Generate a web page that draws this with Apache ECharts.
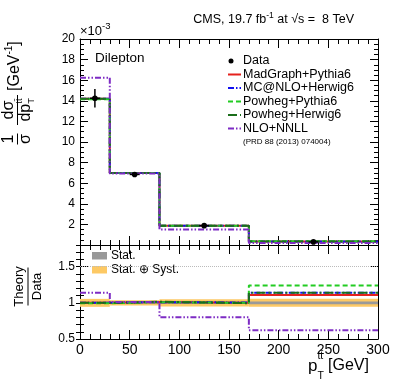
<!DOCTYPE html>
<html><head><meta charset="utf-8">
<script src="https://cdn.jsdelivr.net/npm/echarts@6/dist/echarts.min.js"></script>
<style>html,body{margin:0;padding:0;background:#fff}#c{width:399px;height:383px}</style>
</head><body><div id="c"></div>
<script>
// ---------------- data ----------------
const binEdges = [0, 30, 80, 170, 300];
const dataValues = [14.25, 6.85, 1.88, 0.30];
const dataErrors = [0.9, 0.2, 0.08, 0.03];
const madgraphPythia6 = [14.2, 7.0, 1.88, 0.33];
const mcatnloHerwig6 = [14.2, 7.0, 1.88, 0.34];
const powhegPythia6 = [14.15, 7.0, 1.88, 0.37];
const powhegHerwig6 = [14.2, 6.98, 1.87, 0.34];
const nloNnll = [16.25, 6.95, 1.5, 0.19];

const ratioMadgraph = [1.0, 1.01, 1.0, 1.11];
const ratioMcatnlo = [1.0, 1.01, 1.005, 1.14];
const ratioPowhegPythia = [0.995, 1.01, 1.0, 1.24];
const ratioPowhegHerwig = [1.0, 1.015, 0.995, 1.14];
const ratioNloNnll = [1.14, 1.01, 0.80, 0.62];
const statUnc = [0.012, 0.01, 0.015, 0.018];
const totalUnc = [0.055, 0.035, 0.05, 0.055];

const xTickLabels = [0, 50, 100, 150, 200, 250, 300];
const topYTickLabels = [2, 4, 6, 8, 10, 12, 14, 16, 18, 20];
const ratioYTickLabels = [0.5, 1, 1.5];

// ---------------- helpers ----------------
const FONT = '"Liberation Sans", Arial, Helvetica, sans-serif';
const mctx = document.createElement('canvas').getContext('2d');
function tw(t, size) { mctx.font = size + 'px ' + FONT; return mctx.measureText(t).width; }
function txt(t, x, y, size, align, extra) {
  return Object.assign({ type: 'text', x: x, y: y, silent: true,
    style: { text: t, fontSize: size, fontFamily: FONT, fill: '#000', align: align || 'left', verticalAlign: 'middle' } }, extra || {});
}
// pieces: [text, size, dy, advance]
function run(pieces, x, y, align) {
  let total = 0;
  pieces.forEach(p => { if (p[3] !== false) total += tw(p[0], p[1]); });
  let cx = align === 'center' ? x - total / 2 : (align === 'right' ? x - total : x);
  const out = [];
  pieces.forEach(p => {
    out.push(txt(p[0], cx, y + (p[2] || 0), p[1], 'left'));
    if (p[3] !== false) cx += tw(p[0], p[1]);
  });
  return out;
}
function ln(x1, y1, x2, y2, color, w, dash) {
  return { type: 'line', silent: true, shape: { x1, y1, x2, y2 },
    style: { stroke: color, lineWidth: w, lineDash: dash || null } };
}
function steps(vals) {
  const pts = vals.map((v, i) => [binEdges[i], v]);
  pts.push([binEdges[binEdges.length - 1], vals[vals.length - 1]]);
  return pts;
}

const C = {
  mad: '#e5211d', mc: '#1010f0', pp: '#22cc22', ph: '#1b6e1b', nlo: '#7d2bc4'
};
const D = {
  mad: null, mc: [6, 2, 1.5, 2], pp: [5, 3], ph: [9, 3, 2, 3], nlo: [6, 2, 1.5, 2, 1.5, 2]
};

function stepSeries(name, vals, key, xi, yi) {
  return { name: name, type: 'line', xAxisIndex: xi, yAxisIndex: yi, step: 'end',
    data: steps(vals), symbol: 'none', silent: true,
    lineStyle: { color: C[key], width: 2, type: D[key] ? D[key] : 'solid' } };
}

// ---------------- axes ----------------
const axisLine = { show: true, onZero: false, lineStyle: { color: '#000', width: 1 } };
function xAx(gi, pos, labels) {
  return { type: 'value', gridIndex: gi, position: pos, min: 0, max: 300, interval: 50,
    axisLine: axisLine, splitLine: { show: false },
    axisTick: { show: true, inside: true, length: 9, lineStyle: { color: '#000' } },
    minorTick: { show: true, splitNumber: 5, length: 5, lineStyle: { color: '#000' } },
    axisLabel: { show: labels, fontSize: 14, fontFamily: FONT, color: '#000', margin: 4,
      formatter: v => xTickLabels.includes(v) ? String(v) : '' } };
}
function yTop(pos, labels) {
  return { type: 'value', gridIndex: 0, position: pos, min: 0, max: 20, interval: 2,
    axisLine: axisLine, splitLine: { show: false },
    axisTick: { show: true, inside: true, length: 8, lineStyle: { color: '#000' } },
    minorTick: { show: true, splitNumber: 4, length: 4, lineStyle: { color: '#000' } },
    axisLabel: { show: labels, fontSize: 12, fontFamily: FONT, color: '#000', margin: 5,
      formatter: v => topYTickLabels.includes(v) ? String(v) : '' } };
}
function yRatio(pos, major) {
  return { type: 'value', gridIndex: 1, position: pos, min: 0.5, max: 1.8,
    interval: major ? 0.5 : 0.1,
    axisLine: major ? axisLine : { show: false }, splitLine: { show: false },
    axisTick: { show: true, inside: true, length: major ? 8 : 4, lineStyle: { color: '#000' } },
    axisLabel: { show: major && pos === 'left', fontSize: 12, fontFamily: FONT, color: '#000', margin: 5,
      formatter: v => ratioYTickLabels.includes(v) ? String(v) : '' } };
}

// ---------------- custom renderers ----------------
function bandRender(color) {
  return function (params, api) {
    const p0 = api.coord([api.value(0), api.value(3)]);
    const p1 = api.coord([api.value(1), api.value(2)]);
    return { type: 'rect', shape: { x: p0[0], y: p0[1], width: p1[0] - p0[0], height: p1[1] - p0[1] },
      style: { fill: color } };
  };
}
function bandData(unc) {
  return unc.map((u, i) => [binEdges[i], binEdges[i + 1], 1 - u, 1 + u]);
}
const dataPoints = dataValues.map((v, i) => [(binEdges[i] + binEdges[i + 1]) / 2, v, dataErrors[i]]);
function dataRender(params, api) {
  const x = api.value(0), y = api.value(1), e = api.value(2);
  const c = api.coord([x, y]);
  const t = api.coord([x, y + e]);
  const b = api.coord([x, y - e]);
  return { type: 'group', children: [
    { type: 'line', shape: { x1: c[0], y1: t[1], x2: c[0], y2: b[1] }, style: { stroke: '#000', lineWidth: 1.5 } },
    { type: 'line', shape: { x1: c[0] - 5, y1: c[1], x2: c[0] + 5, y2: c[1] }, style: { stroke: '#000', lineWidth: 1.5 } },
    { type: 'circle', shape: { cx: c[0], cy: c[1], r: 2.8 }, style: { fill: '#000' } }
  ] };
}

// ---------------- graphic texts ----------------
const g = [];
// title
g.push(...run([['CMS, 19.7 fb', 12.5], ['-1', 8.5, -4], [' at \u221As =  8 TeV', 12.5]], 354, 20, 'right'));
// x10^-3
g.push(...run([['\u00D710', 13], ['-3', 9.5, -5]], 80, 31, 'left'));
// Dilepton
g.push(txt('Dilepton', 95, 58.5, 13.5, 'left'));
// legend
const legRows = [61, 74.5, 88, 101.5, 115, 128.5];
const legNames = ['Data', 'MadGraph+Pythia6', 'MC@NLO+Herwig6', 'Powheg+Pythia6', 'Powheg+Herwig6', 'NLO+NNLL'];
const legKeys = [null, 'mad', 'mc', 'pp', 'ph', 'nlo'];
legNames.forEach((n, i) => {
  const y = legRows[i];
  if (i === 0) g.push({ type: 'circle', silent: true, shape: { cx: 231, cy: y, r: 2.5 }, style: { fill: '#000' } });
  else g.push(ln(228, y, 241, y, C[legKeys[i]], 2, D[legKeys[i]]));
  g.push(txt(n, 243, y, 12.5, 'left'));
});
g.push(txt('(PRD 88 (2013) 074004)', 243, 142, 8, 'left'));
// ratio legend
g.push({ type: 'rect', silent: true, shape: { x: 92, y: 252, width: 15, height: 7.5 }, style: { fill: '#999999' } });
g.push(txt('Stat.', 111, 255.5, 12, 'left'));
g.push({ type: 'rect', silent: true, shape: { x: 92, y: 266, width: 15, height: 7.5 }, style: { fill: '#fdc964' } });
g.push(txt('Stat. \u2295 Syst.', 111, 269.7, 12, 'left'));
// y title top (rotated)
const yt = [];
yt.push(txt('1', -45, -8.5, 16, 'center'));
yt.push(txt('\u03C3', -45, 8.5, 16, 'center'));
yt.push(ln(-50.5, 0, -39.5, 0, '#000', 1));
yt.push(txt('d\u03C3', -16, -8.5, 16, 'center'));
(function () {
  const w = tw('dp', 16) + tw('tt\u0304', 9.5);
  const x0 = -16 - w / 2;
  yt.push(txt('dp', x0, 8.5, 16, 'left'));
  yt.push(txt('T', x0 + tw('dp', 16), 14, 9.5, 'left'));
  yt.push(txt('tt\u0304', x0 + tw('dp', 16), 1.5, 9.5, 'left'));
})();
yt.push(ln(-31, 0, -1, 0, '#000', 1));
yt.push(...run([['[GeV', 16], ['-1', 10, -5], [']', 16]], 3, -3, 'left'));
g.push({ type: 'group', x: 17.5, y: 94, rotation: Math.PI / 2, children: yt });
// ratio y title (rotated)
const rt = [];
rt.push(txt('Theory', 0, -8.5, 13, 'center'));
rt.push(ln(-19, 0, 19, 0, '#000', 1));
rt.push(txt('Data', 0, 9, 13, 'center'));
g.push({ type: 'group', x: 28, y: 286.5, rotation: Math.PI / 2, children: rt });
// x title
(function () {
  const x0 = 308;
  g.push(txt('p', x0, 366, 17, 'left'));
  const px = x0 + tw('p', 17);
  g.push(txt('T', px, 376, 10.5, 'left'));
  g.push(txt('tt\u0304', px, 356.5, 10.5, 'left'));
  g.push(txt('[GeV]', 328, 366, 16, 'left'));
})();

// ---------------- chart ----------------
const chart = echarts.init(document.getElementById('c'), null, { renderer: 'canvas' });
chart.setOption({
  animation: false,
  backgroundColor: '#fff',
  grid: [
    { left: 80, top: 39, width: 298, height: 206 },
    { left: 80, top: 245, width: 298, height: 94 }
  ],
  xAxis: [xAx(0, 'bottom', false), xAx(0, 'top', false), xAx(1, 'bottom', true), xAx(1, 'top', false)],
  yAxis: [yTop('left', true), yTop('right', false),
    yRatio('left', true), yRatio('left', false), yRatio('right', true), yRatio('right', false)],
  series: [
    stepSeries('MadGraph+Pythia6', madgraphPythia6, 'mad', 0, 0),
    stepSeries('MC@NLO+Herwig6', mcatnloHerwig6, 'mc', 0, 0),
    stepSeries('Powheg+Pythia6', powhegPythia6, 'pp', 0, 0),
    stepSeries('Powheg+Herwig6', powhegHerwig6, 'ph', 0, 0),
    stepSeries('NLO+NNLL', nloNnll, 'nlo', 0, 0),
    { name: 'Data', type: 'custom', xAxisIndex: 0, yAxisIndex: 0, renderItem: dataRender,
      data: dataPoints, silent: true, z: 5 },
    { name: 'Stat.+Syst.', type: 'custom', xAxisIndex: 2, yAxisIndex: 2, renderItem: bandRender('#fdc964'),
      data: bandData(totalUnc), silent: true,
      markLine: { silent: true, symbol: 'none', label: { show: false },
        lineStyle: { type: 'dotted', color: '#bbbbbb', width: 1 }, data: [{ yAxis: 1.5 }] } },
    { name: 'Stat.', type: 'custom', xAxisIndex: 2, yAxisIndex: 2, renderItem: bandRender('#999999'),
      data: bandData(statUnc), silent: true },
    stepSeries('r MadGraph+Pythia6', ratioMadgraph, 'mad', 2, 2),
    stepSeries('r MC@NLO+Herwig6', ratioMcatnlo, 'mc', 2, 2),
    stepSeries('r Powheg+Pythia6', ratioPowhegPythia, 'pp', 2, 2),
    stepSeries('r Powheg+Herwig6', ratioPowhegHerwig, 'ph', 2, 2),
    stepSeries('r NLO+NNLL', ratioNloNnll, 'nlo', 2, 2)
  ],
  graphic: g
});
</script>
</body></html>
